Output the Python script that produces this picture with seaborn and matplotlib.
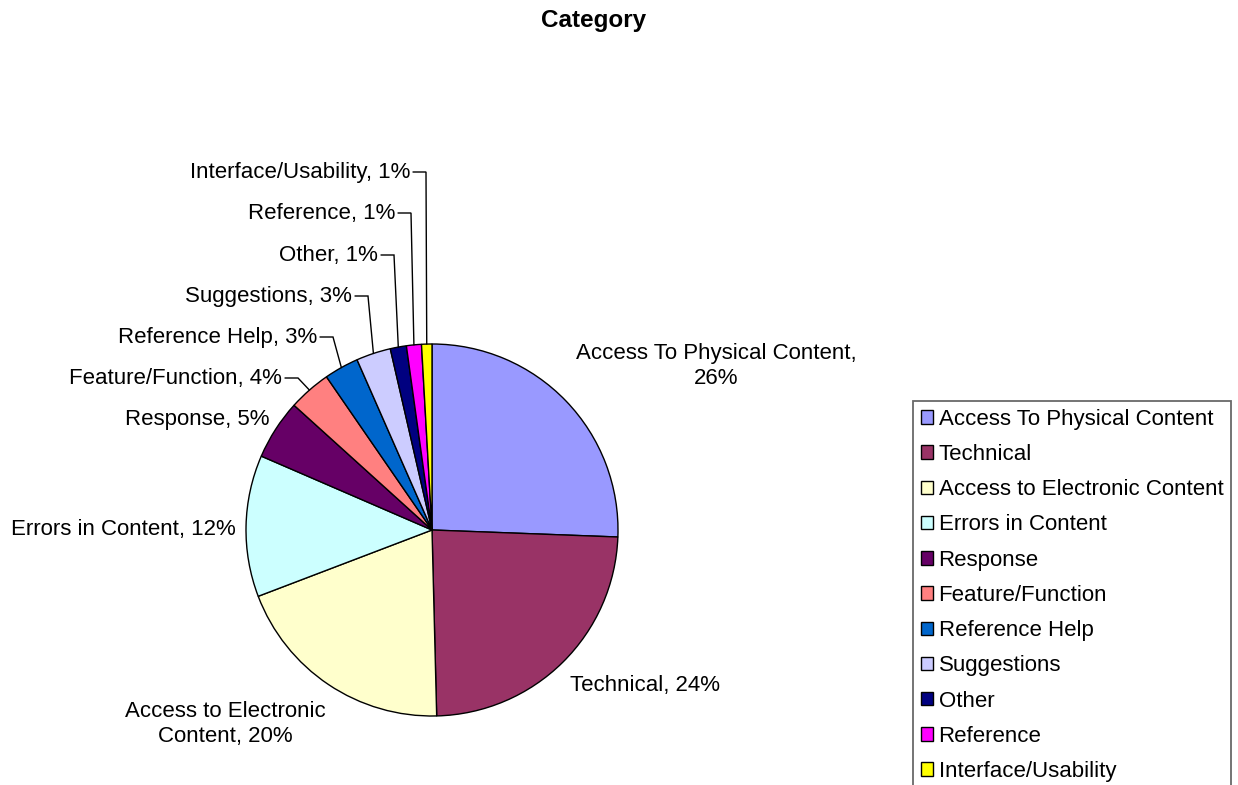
import numpy as np
import matplotlib
matplotlib.use("Agg")
import matplotlib.pyplot as plt
import seaborn as sns

# ---- data ----
categories = ["Access To Physical Content", "Technical", "Access to Electronic Content",
              "Errors in Content", "Response", "Feature/Function", "Reference Help",
              "Suggestions", "Other", "Reference", "Interface/Usability"]
values = [25.6, 24.0, 19.6, 12.3, 5.2, 3.7, 3.0, 3.0, 1.4, 1.3, 0.9]
label_names = ["Access To Physical Content,\n", "Technical, ", "Access to Electronic\nContent, ",
               "Errors in Content, ", "Response, ", "Feature/Function, ", "Reference Help, ",
               "Suggestions, ", "Other, ", "Reference, ", "Interface/Usability, "]
colors = ["#9999FF", "#993366", "#FFFFCC", "#CCFFFF", "#660066", "#FF8080",
          "#0066CC", "#CCCCFF", "#000080", "#FF00FF", "#FFFF00"]
title = "Category"

sns.set_theme(style="white")
plt.rcParams["font.family"] = ["Liberation Sans", "DejaVu Sans"]
plt.rcParams["text.color"] = "black"
palette = sns.color_palette(colors)

W, H = 1238, 785
CX, CY, R = 432, 530, 186
fig = plt.figure(figsize=(W / 100, H / 100), dpi=100)
ax = fig.add_axes([0, 0, 1, 1])

def px(x, y):
    return ((x - CX) / R, (CY - y) / R)

total = sum(values)
wedges, _ = ax.pie(values, colors=palette, startangle=90, counterclock=False,
                   radius=1, center=(0, 0),
                   wedgeprops=dict(edgecolor="black", linewidth=1.0))
ax.set_xlim(px(0, 0)[0], px(W, 0)[0])
ax.set_ylim(px(0, H)[1], px(0, 0)[1])
ax.set_aspect("auto")
ax.axis("off")

fs = 16
texts = [f"{n}{round(v / total * 100):.0f}%" for n, v in zip(label_names, values)]

# label layout: (anchor x px, y px, ha, leader)
layout = {
    0: (716, 366, "center", False),
    1: (570, 686, "left", False),
    2: (225, 724, "center", False),
    3: (236, 529, "right", False),
    4: (269, 419, "right", False),
    5: (282, 378, "right", True),
    6: (317, 337, "right", True),
    7: (352, 296, "right", True),
    8: (378, 255, "right", True),
    9: (395, 213, "right", True),
    10: (410, 172, "right", True),
}
for i, (x, y, ha, leader) in layout.items():
    tx, ty = px(x, y)
    ax.text(tx, ty, texts[i], ha=ha, va="center", fontsize=fs, linespacing=1.3,
            color="black", multialignment="center")
    if leader:
        w = wedges[i]
        th = np.deg2rad((w.theta1 + w.theta2) / 2)
        ex, ey = np.cos(th), np.sin(th)
        x0, _ = px(x + 3, y)
        x1, _ = px(x + 16, y)
        ax.plot([x0, x1, ex], [ty, ty, ey], color="black", linewidth=1.0,
                solid_joinstyle="miter")

fig.text(594 / W, 1 - 21 / H, title, ha="center", va="center", fontsize=17.5,
         fontweight="bold", color="black")

leg = fig.legend(wedges, categories, loc="upper left",
                 bbox_to_anchor=(913 / W, 1 - 401 / H), borderaxespad=0,
                 fontsize=fs, frameon=True, fancybox=False, shadow=False,
                 handlelength=0.55, handleheight=0.55, handletextpad=0.25,
                 labelspacing=0.64, borderpad=0.35, labelcolor="black")
frame = leg.get_frame()
frame.set_edgecolor("#444444")
frame.set_linewidth(1.3)
frame.set_facecolor("white")
for h in leg.legend_handles:
    h.set_edgecolor("black")
    h.set_linewidth(1.0)

fig.savefig("out.png", dpi=100, facecolor="white")
